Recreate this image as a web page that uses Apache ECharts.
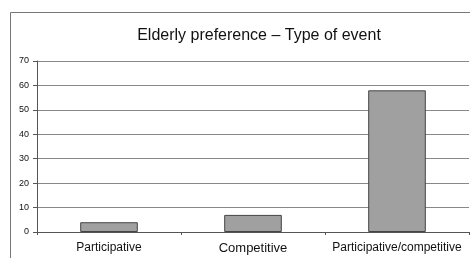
<!DOCTYPE html>
<html><head><meta charset="utf-8">
<script src="https://cdn.jsdelivr.net/npm/echarts@6/dist/echarts.min.js"></script>
<style>html,body{margin:0;padding:0;background:#fff}#c{width:470px;height:258px}</style>
</head><body><div id="c"></div>
<script>
const categories = ["Participative", "Competitive", "Participative/competitive"];
const values = [4, 7, 58];
const yTicks = [0, 10, 20, 30, 40, 50, 60, 70];

const chart = echarts.init(document.getElementById('c'), null, {renderer: 'canvas'});
chart.setOption({
  animation: false,
  backgroundColor: '#fff',
  title: {
    text: 'Elderly preference \u2013 Type of event',
    left: 254, top: 23, textAlign: 'center',
    textStyle: {fontFamily: 'Liberation Sans, Arial', fontSize: 16, fontWeight: 'normal', color: '#111'}
  },
  graphic: [{
    type: 'rect', shape: {x: 10.5, y: 12.5, width: 480, height: 260},
    style: {fill: 'none', stroke: '#777', lineWidth: 1}, z: -1
  }],
  grid: {left: 37, right: 1, top: 61, bottom: 26, containLabel: false},
  xAxis: {
    type: 'category', data: categories,
    axisLine: {lineStyle: {color: '#555', width: 1}},
    axisTick: {show: true, length: 3, lineStyle: {color: '#555'}},
    axisLabel: {interval: 0, fontFamily: 'Liberation Sans, Arial', fontSize: 12, color: '#111', margin: 10,
      formatter: v => v === 'Competitive' ? '{b|' + v + '}' : v,
      rich: {b: {fontSize: 13, fontFamily: 'Liberation Sans, Arial', color: '#111'}}}
  },
  yAxis: {
    type: 'value', min: 0, max: 70, interval: 10,
    axisLine: {show: true, lineStyle: {color: '#555'}},
    axisTick: {show: true, length: 4, lineStyle: {color: '#555'}},
    axisLabel: {fontFamily: 'Liberation Sans, Arial', fontSize: 9, color: '#111', margin: 8,
      formatter: v => yTicks.includes(v) ? String(v) : ''},
    splitLine: {lineStyle: {color: '#888', width: 1}}
  },
  series: [{
    type: 'bar', data: values, barWidth: '40%',
    itemStyle: {color: '#a0a0a0', borderColor: '#444', borderWidth: 1}
  }]
});
</script></body></html>
